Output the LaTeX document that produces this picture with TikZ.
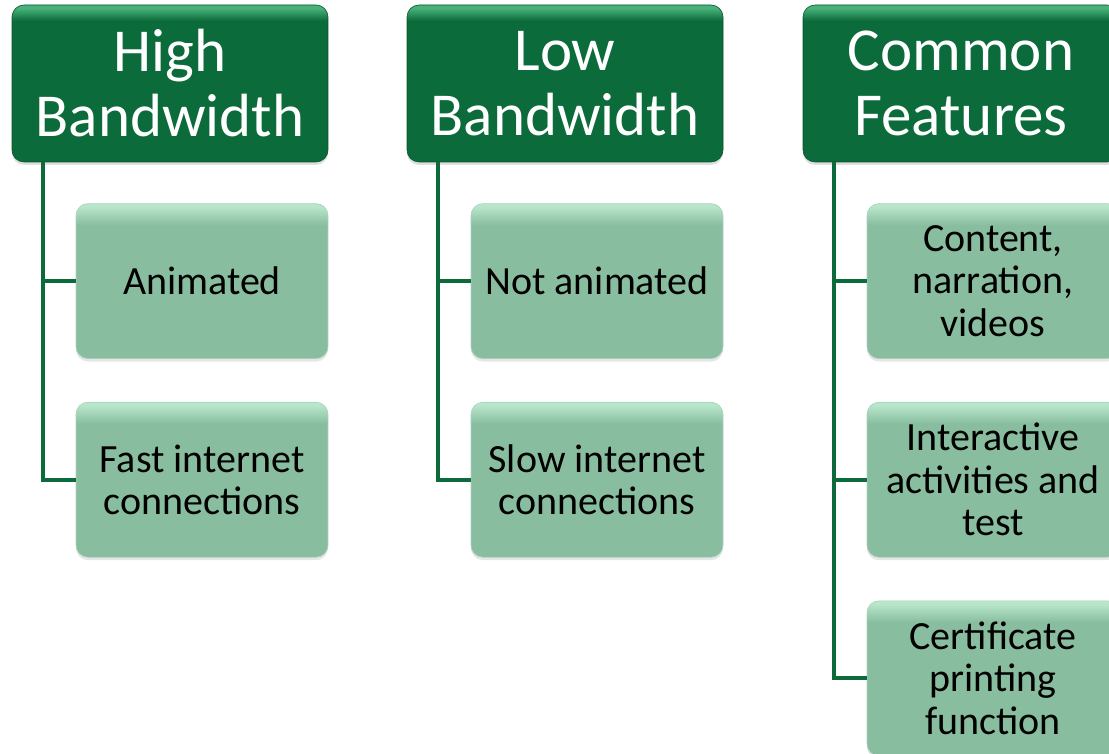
\documentclass[tikz,border=0pt]{standalone}
\usepackage{fontspec}
\setmainfont{Carlito}
\usetikzlibrary{positioning, shadows}
\definecolor{hdmain}{HTML}{0C6B3A}
\definecolor{hdtop}{HTML}{48B27A}
\definecolor{itmain}{HTML}{88BD9F}
\definecolor{ittop}{HTML}{B8E6CB}
\definecolor{trunkgreen}{HTML}{0D6B3B}
\pgfdeclareverticalshading{hdshade}{100bp}{color(0bp)=(hdmain); color(25bp)=(hdmain); color(70bp)=(hdmain); color(74bp)=(hdtop); color(100bp)=(hdtop)}
\pgfdeclareverticalshading{itshade}{100bp}{color(0bp)=(itmain); color(25bp)=(itmain); color(68bp)=(itmain); color(74bp)=(ittop); color(100bp)=(ittop)}
\tikzset{
  headbox/.style={rounded corners=12pt, shading=hdshade, draw=hdmain!80!black, line width=0.6pt,
                  minimum width=316pt, minimum height=157pt, align=center, text=white,
                  font=\fontsize{61}{65}\selectfont, inner sep=0pt,
                  drop shadow={shadow xshift=0pt, shadow yshift=-3pt, opacity=0.25}},
  itembox/.style={rounded corners=12pt, shading=itshade, draw=itmain!70!white, line width=0.6pt,
                  minimum width=252pt, minimum height=155pt, align=center, text=black,
                  font=\fontsize{40}{42.5}\selectfont, inner sep=0pt,
                  drop shadow={shadow xshift=0pt, shadow yshift=-3pt, opacity=0.2}},
  trunk/.style={draw=trunkgreen, line width=4pt},
}

\begin{document}
\begin{tikzpicture}[x=1pt, y=-1pt, node distance=43pt]
  \useasboundingbox (0,0) rectangle (1109,754);
  \clip (0,0) rectangle (1109,754);

  % category headers
  \node[headbox] (hd1) at (170,83.5) {High\\Bandwidth};
  \node[headbox] (hd2) at (565,83.5) {Low\\Bandwidth};
  \node[headbox] (hd3) at (961,83.5) {Common\\Features};

  % items
  \node[itembox, below left=41pt and 0pt of hd1.south east] (hb1) {Animated};
  \node[itembox, below=of hb1] (hb2) {Fast internet\\connections};

  \node[itembox, below left=41pt and 0pt of hd2.south east] (lb1) {Not animated};
  \node[itembox, below=of lb1] (lb2) {Slow internet\\connections};

  \node[itembox, below left=41pt and 0pt of hd3.south east] (cf1) {Content,\\narration,\\videos};
  \node[itembox, below=of cf1] (cf2) {Interactive\\activities and\\test};
  \node[itembox, below=of cf2] (cf3) {Certificate\\printing\\function};

  \coordinate (t1) at ([xshift=31pt]hd1.south west);
  \coordinate (t2) at ([xshift=31pt]hd2.south west);
  \coordinate (t3) at ([xshift=31pt]hd3.south west);

  \foreach \a/\b in {t1/hb1, t1/hb2, t2/lb1, t2/lb2, t3/cf1, t3/cf2, t3/cf3} {
    \draw[trunk] (\a) |- (\b.west);
  }
\end{tikzpicture}
\end{document}
